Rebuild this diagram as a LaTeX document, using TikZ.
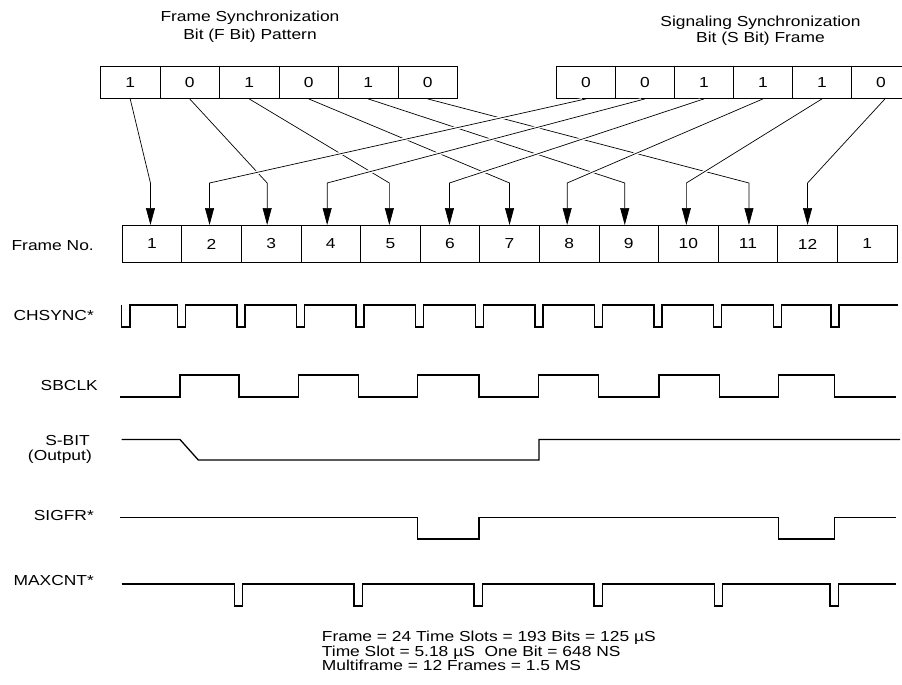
\documentclass[tikz,border=0pt]{standalone}
\usepackage{fontspec}
\setmainfont{Liberation Sans}[FakeStretch=1.2]
\usetikzlibrary{arrows.meta,calc}
\begin{document}
\begin{tikzpicture}[x=1pt,y=-1pt,
  every node/.style={font=\fontsize{14.5}{16}\selectfont, inner sep=0pt},
  tcell/.style={draw, line width=0.9pt, minimum height=32pt, anchor=north west},
  fcell/.style={draw, line width=0.9pt, minimum width=59.6pt, minimum height=37pt, anchor=north west},
  lbl/.style={anchor=base east},
  txt/.style={anchor=base},
  conn/.style={line width=0.7pt, -{Triangle[length=17pt,width=9pt]}},
  mask/.style={white, line width=3.5pt, shorten <=4pt},
  wave/.style={line width=1.3pt, line join=miter}
]
\useasboundingbox (0,0) rectangle (902,685);

% titles
\node[txt] (t1a) at (250,22) {Frame Synchronization};
\node[txt] (t1b) at (250,39.5) {Bit (F Bit) Pattern};
\node[txt] (t2a) at (760.5,26.5) {Signaling Synchronization};
\node[txt] (t2b) at (760.5,43) {Bit (S Bit) Frame};

% top boxes
\foreach \v [count=\k] in {1,0,1,0,1,0}
  \node[tcell, minimum width=59.5pt] (a\k) at ({100+59.5*(\k-1)},66) {\v};
\foreach \v [count=\k] in {0,0,1,1,1,0}
  \node[tcell, minimum width=59pt] (b\k) at ({556+59*(\k-1)},66) {\v};

% frame number row
\node[lbl] (lframe) at (94,250) {Frame No.};
\foreach \v [count=\k] in {1,2,3,4,5,6,7,8,9,10,11,12,1}
  \node[fcell] (f\k) at ({121.7+59.6*(\k-1)},225) {\v};

% arrow targets
\coordinate (bend) at (0,183);
\foreach \t/\dx in {1/-1.5,2/-2,3/-4,4/-3.6,5/-1,6/-0.5,7/0,8/-2,9/-4,10/-2,11/1,12/0}{
  \coordinate (t\t) at ([xshift=\dx pt]f\t.north);
  \coordinate (k\t) at (t\t |- bend);
}
\coordinate (b6s) at ([xshift=4pt]b6.south);

% F-bit connectors
\foreach \k/\t in {1/1,2/3,3/5,4/7,5/9,6/11}
  \draw[conn] (a\k.south) -- (k\t) -- (t\t);

% S-bit connectors (cross over the F-bit ones)
\foreach \s/\t in {b1.south/2,b2.south/4,b3.south/6,b4.south/8,b5.south/10,b6s/12}{
  \draw[mask] (\s) -- (k\t);
  \draw[conn] (\s) -- (k\t) -- (t\t);
}

% signal labels
\node[lbl] (lchs) at (94,320.5) {CHSYNC*};
\node[lbl] (lsbc) at (98,390) {SBCLK};
\node[lbl] (lsb1) at (90,445) {S-BIT};
\node[lbl] (lsb2) at (92,460) {(Output)};
\node[lbl] (lsig) at (94,520) {SIGFR*};
\node[lbl] (lmax) at (94,585.5) {MAXCNT*};

% CHSYNC*
\draw[wave] (121.7,305) -- (121.7,327) -- (130,327) -- (130,305)
  \foreach \b in {181.3,240.9,300.5,360.1,419.7,479.3,538.9,598.5,658.1,717.7,777.3}
    { -- ({\b-4},305) -- ({\b-4},327) -- ({\b+4},327) -- ({\b+4},305) }
  -- (831,305) -- (831,327) -- (839,327) -- (839,305) -- (898,305);

% SBCLK
\draw[wave] (120,397) -- (180,397) -- (180,375) -- (239,375) -- (239,397)
  -- (298.3,397) -- (298.3,375) -- (358.3,375) -- (358.3,397)
  -- (417.7,397) -- (417.7,375) -- (479,375) -- (479,397)
  -- (538.3,397) -- (538.3,375) -- (598.3,375) -- (598.3,397)
  -- (659,397) -- (659,375) -- (719.3,375) -- (719.3,397)
  -- (778.3,397) -- (778.3,375) -- (834.3,375) -- (834.3,397) -- (896,397);

% S-BIT
\draw[wave] (121.7,439.5) -- (180,439.5) -- (198.3,460) -- (539,460)
  -- (539,439.5) -- (900,439.5);

% SIGFR*
\draw[wave] (120,517.5) -- (417.7,517.5) -- (417.7,539) -- (479,539)
  -- (479,517.5) -- (778.3,517.5) -- (778.3,539) -- (834.3,539)
  -- (834.3,517.5) -- (896,517.5);

% MAXCNT*
\draw[wave] (121.7,584)
  \foreach \a in {234.3,354,474,594,714.3,830}
    { -- (\a,584) -- (\a,606) -- ({\a+8.3},606) -- ({\a+8.3},584) }
  -- (896,584);

% notes
\node[anchor=base west] (n1) at (321.7,641.5) {Frame = 24 Time Slots = 193 Bits = 125 µS};
\node[anchor=base west] (n2) at (321.7,656) {Time Slot = 5.18 µS\ \ One Bit = 648 NS};
\node[anchor=base west] (n3) at (321.7,670.5) {Multiframe = 12 Frames = 1.5 MS};
\end{tikzpicture}
\end{document}
